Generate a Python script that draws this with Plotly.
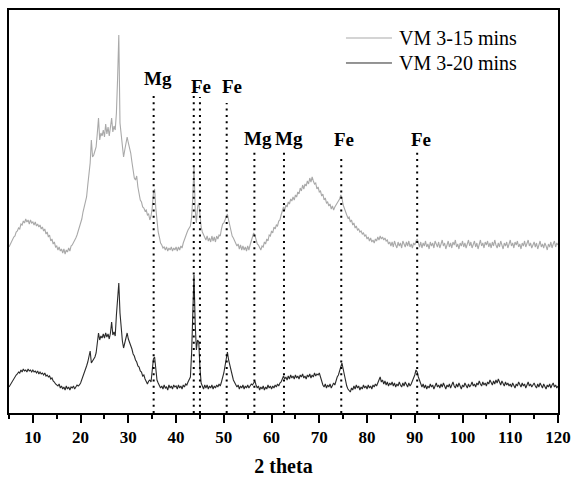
import numpy as np
import plotly.graph_objects as go

# 2-theta sampling grid (degrees)
two_theta = np.round(np.arange(5.0, 120.001, 0.25), 2)

# Intensity (a.u.) for VM 3-15 mins, one row per 5 degrees
vm_15 = [
    166, 169, 171, 173, 176, 177, 181, 182, 185, 184, 189, 188, 192, 190, 194, 191, 193, 189, 193, 190,
    191, 188, 191, 187, 189, 186, 188, 184, 186, 182, 184, 179, 181, 176, 178, 172, 174, 169, 171, 166,
    167, 163, 166, 162, 164, 160, 164, 159, 163, 161, 165, 162, 167, 168, 170, 173, 175, 178, 182, 187,
    190, 194, 201, 207, 212, 216, 228, 238, 250, 273, 256, 258, 262, 266, 280, 295, 273, 280, 277, 283,
    276, 289, 279, 286, 277, 284, 295, 281, 287, 283, 300, 335, 378, 290, 280, 268, 256, 263, 272, 276,
    270, 265, 260, 251, 244, 235, 233, 237, 226, 219, 213, 211, 206, 205, 202, 203, 198, 199, 193, 197,
    205, 220, 224, 205, 192, 181, 176, 170, 168, 165, 166, 163, 166, 162, 165, 163, 166, 162, 165, 163,
    166, 162, 166, 163, 167, 165, 170, 174, 177, 180, 183, 185, 187, 196, 215, 248, 204, 190, 206, 210,
    197, 186, 181, 178, 177, 173, 177, 172, 175, 171, 177, 172, 176, 171, 177, 174, 178, 177, 184, 189,
    190, 193, 196, 199, 193, 187, 181, 177, 175, 172, 171, 167, 169, 164, 168, 163, 167, 163, 166, 162,
    167, 163, 168, 172, 176, 180, 178, 173, 169, 168, 165, 163, 167, 166, 171, 169, 174, 172, 178, 177,
    182, 180, 186, 184, 188, 187, 192, 193, 198, 202, 206, 203, 208, 206, 211, 209, 214, 212, 216, 213,
    218, 216, 221, 219, 225, 222, 228, 224, 229, 227, 232, 229, 235, 231, 236, 232, 229, 230, 224, 226,
    221, 222, 217, 219, 213, 215, 210, 211, 207, 209, 204, 207, 203, 206, 208, 210, 212, 214, 218, 215,
    208, 204, 200, 198, 195, 196, 191, 193, 188, 190, 185, 187, 183, 184, 181, 182, 179, 180, 177, 178,
    174, 176, 172, 175, 171, 173, 170, 174, 172, 176, 173, 177, 174, 176, 173, 175, 172, 173, 169, 171,
    167, 171, 166, 172, 168, 165, 171, 167, 170, 165, 172, 168, 166, 171, 167, 172, 166, 169, 165, 170,
    168, 172, 174, 170, 166, 171, 165, 170, 167, 172, 166, 169, 164, 171, 167, 170, 165, 172, 168, 166,
    171, 165, 169, 173, 167, 170, 164, 168, 172, 166, 170, 165, 171, 168, 173, 166, 169, 164, 170, 167,
    172, 166, 170, 165, 169, 173, 167, 171, 165, 168, 172, 166, 170, 164, 169, 173, 167, 170, 165, 171,
    168, 172, 166, 170, 165, 171, 167, 173, 168, 165, 170, 166, 172, 168, 164, 170, 167, 171, 165, 169,
    173, 167, 170, 165, 171, 168, 172, 166, 169, 164, 170, 167, 172, 166, 169, 173, 167, 170, 165, 168,
    171, 166, 170, 164, 168, 172, 166, 169, 165, 170, 167, 163, 169, 166, 171, 165, 169, 172, 166, 170,
    168,
]

# Intensity (a.u.) for VM 3-20 mins
vm_20 = [
    26, 28, 31, 33, 35, 36, 38, 39, 41, 40, 43, 41, 44, 42, 43, 41, 44, 42, 43, 41,
    43, 41, 42, 40, 42, 39, 41, 39, 40, 38, 40, 37, 38, 36, 37, 34, 35, 32, 31, 29,
    28, 27, 29, 25, 27, 24, 26, 23, 27, 24, 26, 23, 26, 25, 27, 24, 26, 28, 27, 28,
    30, 33, 36, 40, 43, 47, 51, 56, 62, 50, 52, 54, 56, 60, 68, 80, 73, 77, 75, 79,
    75, 80, 76, 79, 74, 80, 91, 78, 81, 77, 98, 118, 130, 100, 85, 72, 65, 70, 76, 80,
    74, 71, 66, 64, 59, 57, 53, 51, 47, 46, 42, 41, 37, 38, 34, 32, 29, 32, 33, 31,
    40, 54, 56, 42, 33, 30, 27, 25, 27, 24, 28, 25, 26, 23, 28, 25, 27, 24, 28, 26,
    27, 24, 28, 25, 27, 24, 28, 26, 29, 28, 31, 33, 36, 60, 110, 138, 90, 63, 73, 71,
    45, 30, 27, 24, 28, 25, 28, 24, 27, 25, 28, 24, 27, 25, 28, 26, 29, 27, 31, 35,
    40, 47, 55, 61, 53, 47, 42, 38, 33, 30, 28, 26, 28, 24, 27, 25, 28, 24, 27, 25,
    28, 25, 27, 29, 28, 31, 32, 28, 25, 27, 23, 26, 24, 27, 23, 26, 24, 28, 25, 27,
    24, 27, 25, 28, 26, 29, 27, 30, 31, 34, 37, 34, 36, 33, 37, 34, 38, 35, 37, 34,
    38, 35, 37, 34, 38, 36, 39, 35, 37, 34, 38, 36, 39, 35, 38, 36, 40, 37, 39, 38,
    40, 36, 31, 28, 26, 29, 25, 28, 26, 29, 25, 27, 30, 28, 33, 36, 38, 42, 48, 50,
    44, 38, 33, 27, 24, 22, 21, 25, 23, 27, 24, 28, 25, 27, 23, 26, 24, 28, 25, 27,
    24, 28, 25, 27, 24, 28, 26, 29, 27, 30, 33, 36, 31, 33, 29, 32, 28, 31, 27, 30,
    28, 31, 27, 30, 26, 29, 27, 31, 28, 26, 30, 27, 31, 28, 26, 30, 27, 29, 32, 35,
    38, 43, 41, 36, 32, 28, 26, 29, 25, 28, 24, 27, 25, 29, 26, 28, 24, 27, 30, 26,
    28, 25, 29, 26, 30, 27, 24, 28, 26, 29, 25, 28, 31, 27, 25, 29, 26, 30, 27, 24,
    28, 26, 30, 27, 25, 29, 26, 28, 31, 27, 29, 26, 30, 28, 32, 29, 27, 31, 28, 30,
    27, 31, 29, 33, 30, 28, 32, 29, 33, 30, 34, 31, 28, 32, 29, 27, 31, 28, 30, 27,
    29, 26, 30, 28, 25, 29, 27, 31, 28, 26, 30, 27, 29, 25, 28, 31, 27, 29, 26, 28,
    30, 27, 25, 29, 26, 30, 28, 25, 29, 27, 24, 28, 26, 29, 25, 28, 30, 26, 28, 25,
    27,
]

assert len(vm_15) == len(two_theta) and len(vm_20) == len(two_theta)

series_names = ["VM 3-15 mins", "VM 3-20 mins"]
series_colors = ["#a9a9a9", "#2b2b2b"]

# Reference peak positions (2-theta) and the top of each marker line
peak_pos = [35.3, 43.7, 45.0, 50.6, 56.4, 62.6, 74.6, 90.5]
peak_line_top = [318, 320, 316, 310, 263, 263, 255, 263]

# Phase labels (one "Fe" label covers the 43.7/45.0 pair)
label_text = ["Mg", "Fe", "Fe", "Mg", "Mg", "Fe", "Fe"]
label_x = [36.2, 45.3, 51.7, 57.1, 63.7, 75.2, 91.4]
label_y = [335, 327, 327, 275, 275, 274, 274]

SERIF = "Times New Roman, Liberation Serif, serif"

fig = go.Figure()
for name, vals, col in zip(series_names, [vm_15, vm_20], series_colors):
    fig.add_trace(go.Scatter(
        x=two_theta, y=vals, mode="lines", name=name,
        line=dict(color=col, width=1.1), showlegend=False,
    ))

for xp, top in zip(peak_pos, peak_line_top):
    fig.add_shape(type="line", xref="x", yref="y", x0=xp, x1=xp, y0=0, y1=top,
                  line=dict(color="black", width=2, dash="2px,4.3px"))

for txt, lx, ly in zip(label_text, label_x, label_y):
    fig.add_annotation(x=lx, y=ly, xref="x", yref="y", text=txt, showarrow=False,
                       font=dict(family=SERIF, size=19, color="black", weight="bold"),
                       xanchor="center", yanchor="middle", borderpad=0)

# Legend drawn as line samples with text beside them
legend_rows_y = [0.9305, 0.8685]
for name, col, ly in zip(series_names, series_colors, legend_rows_y):
    fig.add_shape(type="line", xref="paper", yref="paper",
                  x0=0.6138, x1=0.6976, y0=ly, y1=ly,
                  line=dict(color=col, width=1))
    fig.add_annotation(x=0.7086, y=ly, xref="paper", yref="paper", text=name,
                       showarrow=False, xanchor="left", yanchor="middle", borderpad=0,
                       font=dict(family=SERIF, size=20, color="black"))

fig.update_layout(
    width=572, height=477,
    margin=dict(l=9, r=14, t=10, b=64),
    paper_bgcolor="white", plot_bgcolor="white",
    font=dict(family=SERIF, color="black"),
    xaxis=dict(
        range=[5, 120], showgrid=False, zeroline=False, automargin=False,
        showline=True, linecolor="black", linewidth=2, mirror=True,
        ticks="outside", ticklen=8, tickwidth=2, tickcolor="black",
        tick0=0, dtick=10,
        minor=dict(dtick=5, ticks="outside", ticklen=4, tickwidth=2, tickcolor="black"),
        tickfont=dict(family=SERIF, size=17, color="black", weight="bold"),
        title=dict(text="2 theta", standoff=14,
                   font=dict(family=SERIF, size=20, color="black", weight="bold")),
    ),
    yaxis=dict(
        range=[0, 403], showgrid=False, zeroline=False, automargin=False,
        showline=True, linecolor="black", linewidth=2, mirror=True,
        ticks="", showticklabels=False,
    ),
)

fig.write_html("out.html")
